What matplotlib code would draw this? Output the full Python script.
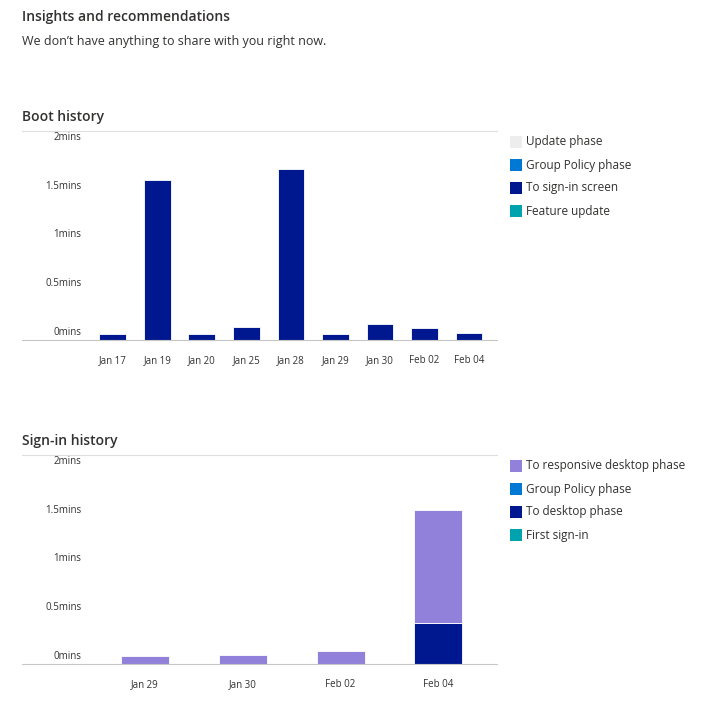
import matplotlib
matplotlib.use("Agg")
import matplotlib.pyplot as plt
from matplotlib.patches import Rectangle

plt.rcParams["font.family"] = ["Open Sans", "DejaVu Sans"]

W, H = 714, 720
TXT = "#323130"
NAVY = "#00188f"
LILAC = "#9181da"
BLUE = "#0078d4"
TEAL = "#00a2ad"
GREYL = "#ededed"

boot_days = ["Jan 17", "Jan 19", "Jan 20", "Jan 25", "Jan 28", "Jan 29", "Jan 30", "Feb 02", "Feb 04"]
boot_signin = [0.06, 1.64, 0.06, 0.13, 1.75, 0.06, 0.16, 0.12, 0.07]
boot_legend = ["Update phase", "Group Policy phase", "To sign-in screen", "Feature update"]

sign_days = ["Jan 29", "Jan 30", "Feb 02", "Feb 04"]
sign_desktop = [0.0, 0.0, 0.0, 0.42]
sign_responsive = [0.08, 0.09, 0.13, 1.16]
sign_legend = ["To responsive desktop phase", "Group Policy phase", "To desktop phase", "First sign-in"]

yticks = [0, 0.5, 1, 1.5, 2]
ylabels = ["0mins", "0.5mins", "1mins", "1.5mins", "2mins"]


def fx(px):
    return px / W


def fy(py):
    return 1 - py / H


def setup(ax, title, top_px, xl, xr):
    ax.set_xlim(xl, xr)
    ax.set_ylim(0, 2.14)
    for s in ["left", "right"]:
        ax.spines[s].set_visible(False)
    ax.spines["top"].set_color("#e1dfdd")
    ax.spines["bottom"].set_color("#c8c6c4")
    ax.set_yticks([])
    ax.tick_params(axis="x", length=0, labelsize=7, labelcolor=TXT, pad=11)
    tr = ax.get_yaxis_transform()
    for v, lab in zip(yticks, ylabels):
        ax.text(0.125, v + 0.02, lab, transform=tr, ha="right", va="bottom", fontsize=7, color=TXT)
    fig.text(fx(22), fy(top_px - 14), title, fontsize=10, fontweight="semibold", color=TXT, va="center")


def legend(items, colors, y0):
    for i, (lab, c) in enumerate(zip(items, colors)):
        y = y0 + 23 * i
        fig.add_artist(Rectangle((fx(510), fy(y + 6)), 12 / W, 12 / H, transform=fig.transFigure,
                                 facecolor=c, edgecolor="none"))
        fig.text(fx(526), fy(y), lab, fontsize=8.5, color=TXT, va="center")


fig = plt.figure(figsize=(W / 100, H / 100), dpi=100)
fig.text(fx(22), fy(17), "Insights and recommendations", fontsize=10, fontweight="semibold", color=TXT, va="center")
fig.text(fx(22), fy(41), "We don\u2019t have anything to share with you right now.", fontsize=9, color=TXT, va="center")

ax1 = fig.add_axes([fx(22), fy(340), 475 / W, 209 / H])
ax1.bar(range(len(boot_days)), boot_signin, width=0.6, color=NAVY, edgecolor="white", linewidth=0.6)
ax1.set_xticks(range(len(boot_days)), boot_days)
setup(ax1, "Boot history", 131, -2.04, 8.63)
legend(boot_legend, [GREYL, BLUE, NAVY, TEAL], 142)

ax2 = fig.add_axes([fx(22), fy(664), 475 / W, 209 / H])
x2 = range(len(sign_days))
ax2.bar(x2, sign_desktop, width=0.49, color=NAVY, edgecolor="white", linewidth=0.6)
ax2.bar(x2, sign_responsive, width=0.49, bottom=sign_desktop, color=LILAC, edgecolor="white", linewidth=0.6)
ax2.set_xticks(list(x2), sign_days)
setup(ax2, "Sign-in history", 455, -1.26, 3.6)
legend(sign_legend, [LILAC, BLUE, NAVY, TEAL], 466)

fig.savefig("out.png", dpi=100)
